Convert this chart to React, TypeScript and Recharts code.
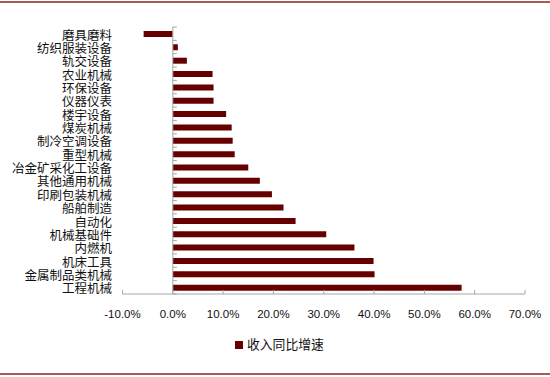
import React from 'react';
import { BarChart, Bar, XAxis, YAxis, ReferenceLine, Legend } from 'recharts';

const categories = [
  '磨具磨料', '纺织服装设备', '轨交设备', '农业机械', '环保设备', '仪器仪表', '楼宇设备',
  '煤炭机械', '制冷空调设备', '重型机械', '冶金矿采化工设备', '其他通用机械', '印刷包装机械',
  '船舶制造', '自动化', '机械基础件', '内燃机', '机床工具', '金属制品类机械', '工程机械',
];
const growth = [
  -5.8, 1.0, 2.8, 7.9, 8.1, 8.1, 10.6,
  11.7, 11.9, 12.3, 15.0, 17.3, 19.7,
  22.0, 24.4, 30.5, 36.1, 39.9, 40.1, 57.4,
];
const xTicks = [-10, 0, 10, 20, 30, 40, 50, 60, 70];
const seriesName = '收入同比增速';

const data = categories.map((c, i) => ({ name: c, value: growth[i] }));

const AXIS = '#a6a6a6';
const BAR = '#660000';
const CJK = '"Noto Sans CJK SC", sans-serif';

const ZeroAxis = (props: any) => {
  const { x1, y1, x2, y2 } = props;
  const n = categories.length;
  const step = (y2 - y1) / n;
  const ticks = [];
  for (let i = 0; i <= n; i++) {
    const y = y1 + step * i;
    ticks.push(<line key={i} x1={x1} x2={x1 + 4} y1={y} y2={y} stroke={AXIS} strokeWidth={1} />);
  }
  return (
    <g>
      <line x1={x1} y1={y1} x2={x2} y2={y2} stroke={AXIS} strokeWidth={1} />
      {ticks}
    </g>
  );
};

export default function App() {
  return (
    <div style={{ position: 'absolute', left: 0, top: 0, width: 550, height: 377, background: '#fff' }}>
      <div style={{ position: 'absolute', left: 0, top: 1, width: 550, height: 2, background: '#a95858' }} />
      <div style={{ position: 'absolute', left: 0, top: 373, width: 550, height: 2, background: '#a95858' }} />
      <BarChart
        width={550}
        height={377}
        data={data}
        layout="vertical"
        margin={{ top: 27, right: 25, bottom: 53, left: 0 }}
        barCategoryGap={0}
      >
        <XAxis
          type="number"
          domain={[-10, 70]}
          ticks={xTicks}
          tickFormatter={(v: number) => v.toFixed(1) + '%'}
          axisLine={{ stroke: AXIS }}
          tickLine={{ stroke: AXIS }}
          tickSize={-4}
          tickMargin={20}
          height={30}
          tick={{ fill: '#111', fontSize: 11.5, fontFamily: '"Liberation Sans", Arial, sans-serif' }}
          interval={0}
        />
        <YAxis
          type="category"
          dataKey="name"
          width={122.5}
          axisLine={false}
          tickLine={false}
          tickSize={0}
          tickMargin={10.5}
          interval={0}
          tick={{ fill: '#111', fontSize: 12.5, fontFamily: CJK, dy: 1.5 }}
        />
        <Bar dataKey="value" name={seriesName} fill={BAR} barSize={6} isAnimationActive={false} />
        <ReferenceLine x={0} shape={ZeroAxis} />
        <Legend
          layout="horizontal"
          verticalAlign="middle"
          align="center"
          iconType="square"
          iconSize={8}
          wrapperStyle={{ top: 336, left: 235, width: 'auto', lineHeight: '16px' }}
          formatter={(v: string) => (
            <span style={{ color: '#111', fontSize: 12.8, fontFamily: CJK }}>{v}</span>
          )}
        />
      </BarChart>
    </div>
  );
}
